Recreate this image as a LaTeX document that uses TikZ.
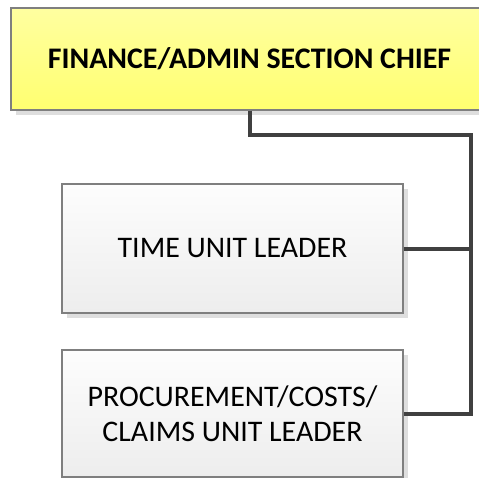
\documentclass[tikz,border=0pt]{standalone}
\usepackage{fontspec}
\setmainfont{Carlito}
\usetikzlibrary{shadows}
\definecolor{chieftop}{HTML}{FFFFA0}
\definecolor{chiefbot}{HTML}{FFFF70}
\definecolor{unittop}{HTML}{FDFDFD}
\definecolor{unitbot}{HTML}{EDEDED}
\definecolor{boxline}{HTML}{7F7F7F}
\definecolor{conn}{HTML}{404040}
\definecolor{shade}{HTML}{DEDEDE}
\tikzset{
  orgbox/.style={draw=boxline, line width=1.2bp, inner sep=0pt, align=center,
    font=\fontsize{30}{35}\selectfont,
    drop shadow={shadow xshift=5bp, shadow yshift=-5bp, fill=shade, opacity=1}},
  chiefbox/.style={orgbox, top color=chieftop, bottom color=chiefbot,
    minimum width=477bp, minimum height=102bp, font=\fontsize{30}{35}\selectfont\bfseries},
  unitbox/.style={orgbox, top color=unittop, bottom color=unitbot,
    minimum width=341bp},
  link/.style={draw=conn, line width=4bp, line join=miter}
}
\begin{document}
\begin{tikzpicture}[x=1bp,y=-1bp]
\useasboundingbox (0,0) rectangle (479,478);
\clip (0,0) rectangle (479,478);
\fill[white] (0,0) rectangle (479,478);
\node[chiefbox] (chief) at (249.5,59) {FINANCE/ADMIN SECTION CHIEF};
\node[unitbox, minimum height=129bp] (time) at (232.5,248.5) {TIME UNIT LEADER};
\node[unitbox, minimum height=127bp] (proc) at (232.5,413.5) {PROCUREMENT/COSTS/\\CLAIMS UNIT LEADER};
\coordinate (trunk) at (471,135.5);
\draw[link] (chief.south) |- (trunk) |- (proc.east);
\draw[link] (time.east) -- (time.east -| trunk);
\end{tikzpicture}
\end{document}
